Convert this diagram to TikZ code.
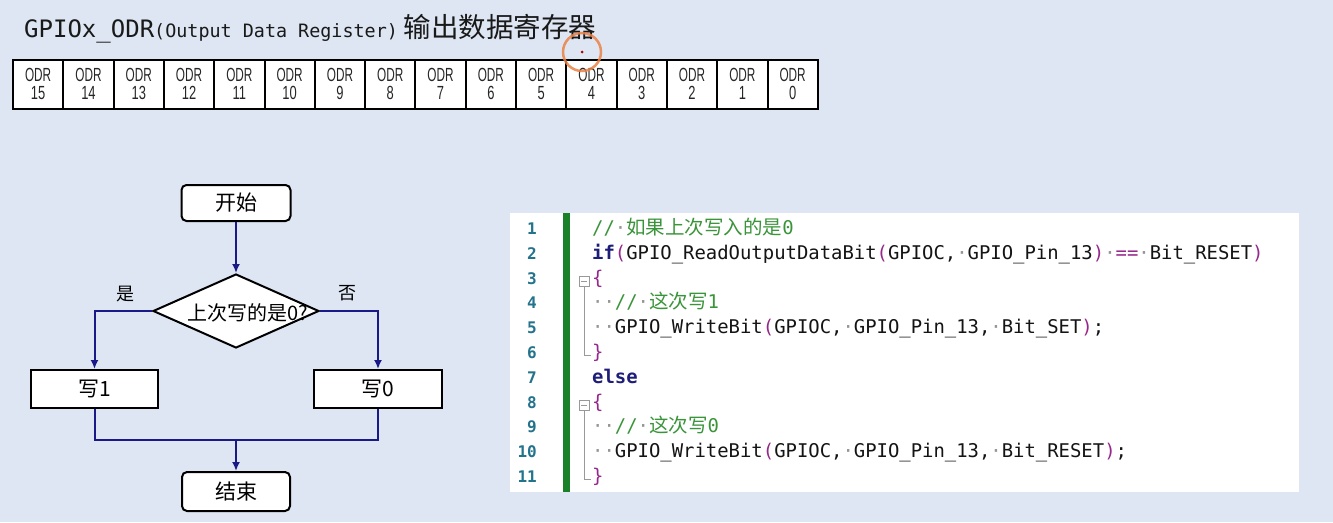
\documentclass[tikz,border=0pt]{standalone}
\usepackage{fontspec}
\usetikzlibrary{arrows.meta,shapes.geometric}
\setmainfont{Liberation Sans}
\newfontfamily\cjk{Noto Sans CJK SC}
\newfontfamily\codefont{DejaVu Sans Mono}
\newfontfamily\regfont{Liberation Sans}
\definecolor{bg}{RGB}{221,230,242}
\definecolor{cmtc}{RGB}{58,148,58}
\definecolor{kwc}{RGB}{30,30,120}
\definecolor{punc}{RGB}{150,40,140}
\definecolor{txtc}{RGB}{20,20,20}
\definecolor{wsc}{RGB}{150,150,150}
\definecolor{lnc}{RGB}{35,115,140}
\definecolor{barc}{RGB}{25,130,40}
\definecolor{navy}{RGB}{25,25,135}
\definecolor{ringc}{RGB}{235,130,70}
\newcommand\wsdot{\textcolor{wsc}{·}}
\newcommand\punc[1]{\textcolor{punc}{#1}}
\newcommand\cmnt[1]{\textcolor{cmtc}{#1}}
\newcommand\regtext[1]{\scalebox{0.62}[1]{ODR}\\[1pt]\scalebox{0.68}[1]{#1}}
\tikzset{
  regcell/.style={draw=black, line width=2pt, fill=white, minimum width=50.3pt, minimum height=49pt, inner sep=0pt, align=center, text=black!85, font=\regfont\fontsize{19}{17}\selectfont},
  termbox/.style={draw=black, line width=2pt, fill=white, rounded corners=5pt, inner sep=0pt, font=\cjk\fontsize{21}{24}\selectfont},
  procbox/.style={draw=black, line width=2pt, fill=white, inner sep=0pt, font=\cjk\fontsize{21}{24}\selectfont},
  decision/.style={diamond, draw=black, line width=2pt, fill=white, inner sep=0pt, minimum width=166pt, minimum height=74pt},
  flowtxt/.style={inner sep=0pt, font=\cjk\fontsize{20}{22}\selectfont},
  flow/.style={draw=navy, line width=2pt},
  arr/.style={flow, -{Latex[length=9pt,width=8pt]}},
  lnum/.style={inner sep=0pt, anchor=base east, text=lnc, font=\codefont\bfseries\fontsize{16}{18}\selectfont},
  codeln/.style={inner sep=0pt, anchor=base west, text=txtc, font=\codefont\fontsize{18.9}{22}\selectfont},
  foldln/.style={draw=gray!80, line width=1pt},
}
\begin{document}
\begin{tikzpicture}[x=1pt,y=-1pt]
\useasboundingbox (0,0) rectangle (1333,522);
\fill[bg] (0,0) rectangle (1333,522);

% title
\node[inner sep=0pt, anchor=base west, text=black!90] (title) at (24,37)
  {{\codefont\fontsize{24}{26}\selectfont GPIOx\_ODR}{\codefont\fontsize{18.4}{20}\selectfont (Output Data Register)}\hspace{6pt}{\cjk\fontsize{27.5}{30}\selectfont 输出数据寄存器}};

% register cells
\foreach \i in {0,...,15} {
  \pgfmathtruncatemacro\n{15-\i}
  \node[regcell] (cell\n) at ({38.15+\i*50.3},84) {\regtext{\n}};
}
\draw[ringc, line width=2.5pt, opacity=0.85] (582,52) circle (19);
\fill[red!70!black] (582,52) circle (1.5);

% flowchart
\node[termbox, minimum width=109pt, minimum height=36pt] (start) at (236,203) {开始};
\node[decision] (dec) at (236,311) {};
\node[flowtxt] (dectxt) at (248,313) {上次写的是0?};
\node[procbox, minimum width=127pt, minimum height=38pt] (w1) at (94.5,389) {写1};
\node[procbox, minimum width=128pt, minimum height=38pt] (w0) at (378,389) {写0};
\node[termbox, minimum width=108pt, minimum height=39pt] (stop) at (236,491.5) {结束};
\node[flowtxt, font=\cjk\fontsize{18}{20}\selectfont] (yes) at (125,294) {是};
\node[flowtxt, font=\cjk\fontsize{18}{20}\selectfont] (no) at (347,293) {否};
\coordinate (merge) at (236,440);

\draw[arr] (start.south) -- (dec.north);
\draw[arr] (dec.west) -| (w1.north);
\draw[arr] (dec.east) -| (w0.north);
\draw[flow] (w1.south) |- (merge) -| (w0.south);
\draw[arr] (merge) -- (stop.north);

% code panel
\fill[white] (510,213) rectangle (1299,492);
\fill[barc] (563,213) rectangle (570,492);
\foreach \i in {1,...,11} {
  \node[lnum] (ln\i) at (537,{234.5+(\i-1)*24.8}) {\i};
}
\node[codeln] (c1) at (592,234.5) {\cmnt{//\wsdot{\cjk\fontsize{19.5}{22}\selectfont 如果上次写入的是}0}};
\node[codeln] (c2) at (592,259.3) {{\bfseries\color{kwc}if}\punc{(}GPIO\_ReadOutputDataBit\punc{(}GPIOC,\wsdot GPIO\_Pin\_13\punc{)}\wsdot\punc{==}\wsdot Bit\_RESET\punc{)}};
\node[codeln] (c3) at (592,284.1) {\punc{\{}};
\node[codeln] (c4) at (592,308.9) {\wsdot\wsdot\cmnt{//\wsdot{\cjk\fontsize{19.5}{22}\selectfont 这次写}1}};
\node[codeln] (c5) at (592,333.7) {\wsdot\wsdot GPIO\_WriteBit\punc{(}GPIOC,\wsdot GPIO\_Pin\_13,\wsdot Bit\_SET\punc{)};};
\node[codeln] (c6) at (592,358.5) {\punc{\}}};
\node[codeln] (c7) at (592,383.3) {{\bfseries\color{kwc}else}};
\node[codeln] (c8) at (592,408.1) {\punc{\{}};
\node[codeln] (c9) at (592,432.9) {\wsdot\wsdot\cmnt{//\wsdot{\cjk\fontsize{19.5}{22}\selectfont 这次写}0}};
\node[codeln] (c10) at (592,457.7) {\wsdot\wsdot GPIO\_WriteBit\punc{(}GPIOC,\wsdot GPIO\_Pin\_13,\wsdot Bit\_RESET\punc{)};};
\node[codeln] (c11) at (592,482.5) {\punc{\}}};

% fold markers
\foreach \y in {0,124} {
  \draw[foldln, fill=white] (579,{276+\y}) rectangle (589,{286+\y});
  \draw[foldln] (581,{281+\y}) -- (587,{281+\y});
  \draw[foldln] (584,{286+\y}) |- (591,{355+\y});
}
\end{tikzpicture}
\end{document}
